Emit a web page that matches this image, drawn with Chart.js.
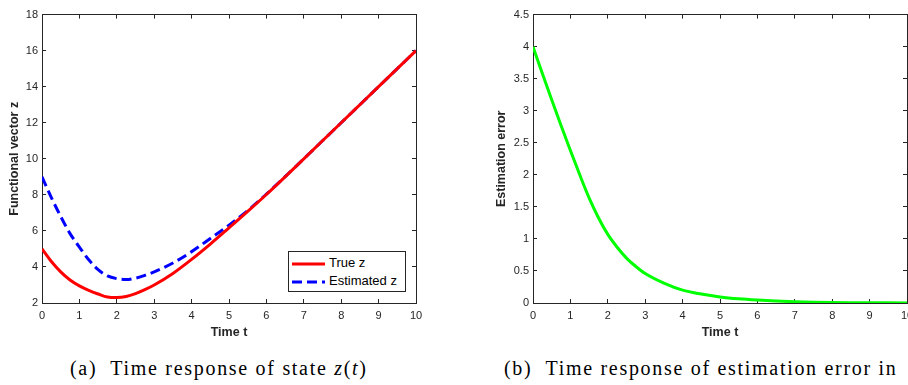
<!DOCTYPE html>
<html>
<head>
<meta charset="utf-8">
<script src="https://cdn.jsdelivr.net/npm/chart.js@4.4.0/dist/chart.umd.min.js"></script>
<style>
  html, body { margin: 0; padding: 0; background: #fff; }
  body { width: 908px; height: 385px; overflow: hidden; position: relative; }
  .wrap { position: absolute; top: 0; height: 345px; }
  #leftWrap { left: 0; width: 454px; }
  #rightWrap { left: 454px; width: 480px; }
  .caption { position: absolute; top: 357px; font-family: "Liberation Serif", serif; font-size: 20px; letter-spacing: 1.7px; word-spacing: 0; color: #000; white-space: nowrap; }
  #legendBox { position: absolute; left: 288px; top: 251px; width: 116px; height: 39px; border: 1px solid #262626; background: #fff;
               font-family: "Liberation Sans", Arial, sans-serif; font-size: 13px; color: #000; }
  #legendBox .row { position: absolute; left: 3px; height: 18px; line-height: 18px; white-space: nowrap; }
  #legendBox svg { vertical-align: middle; margin-right: 4px; }
</style>
</head>
<body>
<div class="wrap" id="leftWrap"><canvas id="stateChart"></canvas></div>
<div class="wrap" id="rightWrap"><canvas id="errChart"></canvas></div>
<div id="legendBox"></div>
<div class="caption" style="left:70px">(a)&nbsp; Time response of state <i>z</i>(<i>t</i>)</div>
<div class="caption" style="left:504px">(b)&nbsp; Time response of estimation error in</div>
<script>
const timeT = [0, 0.25, 0.5, 0.75, 1, 1.25, 1.5, 1.75, 2, 2.25, 2.5, 2.75, 3, 3.5, 4, 4.5, 5, 5.5, 6, 6.5, 7, 7.5, 8, 8.5, 9, 9.5, 10];
const trueZ = [5.0, 4.3, 3.73, 3.28, 2.95, 2.7, 2.5, 2.33, 2.3, 2.36, 2.52, 2.74, 3.0, 3.64, 4.42, 5.27, 6.17, 7.08, 8.02, 9.0, 10.0, 11.0, 12.0, 13.0, 14.0, 15.0, 16.0];
const estZ = [9.0, 7.85, 6.8, 5.85, 5.1, 4.4, 3.85, 3.5, 3.35, 3.3, 3.38, 3.53, 3.73, 4.22, 4.85, 5.58, 6.32, 7.12, 8.04, 9.01, 10.0, 11.0, 12.0, 13.0, 14.0, 15.0, 16.0];
const estErr = [4.0, 3.58, 3.17, 2.77, 2.38, 2.0, 1.64, 1.33, 1.07, 0.87, 0.7, 0.57, 0.46, 0.31, 0.2, 0.14, 0.095, 0.065, 0.045, 0.03, 0.02, 0.013, 0.008, 0.005, 0.003, 0.002, 0.001];
const seriesNames = ['True z', 'Estimated z'];
const axisTitles = { x: 'Time t', yState: 'Functional vector z', yErr: 'Estimation error' };

const pts = (ys) => timeT.map((t, i) => ({ x: t, y: ys[i] }));
const ink = '#262626';
const tickFont = { family: 'Liberation Sans, Arial, sans-serif', size: 11 };
const titleFont = { family: 'Liberation Sans, Arial, sans-serif', size: 12.5, weight: 'bold' };
const plainNum = (v) => String(Math.round(v * 10) / 10);

function boxAxes(xMin, xMax, yMin, yMax, yStep, yTitle, yWidth, yTitlePad) {
  const grid = { drawOnChartArea: false, drawTicks: true, tickLength: -4, color: ink };
  const border = { display: true, color: ink, width: 1 };
  return {
    x: {
      type: 'linear', min: xMin, max: xMax, position: 'bottom',
      ticks: { stepSize: 1, color: ink, font: tickFont, padding: 10, maxRotation: 0, callback: plainNum },
      grid, border,
      title: { display: true, text: axisTitles.x, color: ink, font: titleFont, padding: { top: 0, bottom: 5 } },
      afterFit: (s) => { s.height = 42; }
    },
    x2: {
      type: 'linear', min: xMin, max: xMax, position: 'top',
      ticks: { stepSize: 1, display: false },
      grid, border,
      afterFit: (s) => { s.height = 0; }
    },
    y: {
      type: 'linear', min: yMin, max: yMax, position: 'left',
      ticks: { stepSize: yStep, color: ink, font: tickFont, padding: 8, callback: plainNum },
      grid, border,
      title: { display: true, text: yTitle, color: ink, font: titleFont, padding: { top: yTitlePad, bottom: 0 } },
      afterFit: (s) => { s.width = yWidth; }
    },
    y2: {
      type: 'linear', min: yMin, max: yMax, position: 'right',
      ticks: { stepSize: yStep, display: false },
      grid, border,
      afterFit: (s) => { s.width = 0; }
    }
  };
}

const stateChart = new Chart(document.getElementById('stateChart'), {
  type: 'line',
  data: {
    datasets: [{
      label: seriesNames[0],
      data: pts(trueZ),
      borderColor: '#ff0000',
      borderWidth: 3,
      pointRadius: 0,
      cubicInterpolationMode: 'monotone'
    }, {
      label: seriesNames[1],
      data: pts(estZ),
      borderColor: '#0000ff',
      borderWidth: 3,
      borderDash: [10, 5],
      pointRadius: 0,
      cubicInterpolationMode: 'monotone'
    }]
  },
  options: {
    responsive: true,
    maintainAspectRatio: false,
    animation: false,
    layout: { padding: { left: 0, top: 9, right: 38, bottom: 0 } },
    plugins: { legend: { display: false }, tooltip: { enabled: false } },
    scales: boxAxes(0, 10, 2, 18, 2, axisTitles.yState, 42, 7)
  }
});

const errChart = new Chart(document.getElementById('errChart'), {
  type: 'line',
  data: {
    datasets: [{
      label: axisTitles.yErr,
      data: pts(estErr),
      borderColor: '#00ff00',
      borderWidth: 3,
      pointRadius: 0,
      cubicInterpolationMode: 'monotone'
    }]
  },
  options: {
    responsive: true,
    maintainAspectRatio: false,
    animation: false,
    layout: { padding: { left: 33, top: 9, right: 27, bottom: 0 } },
    plugins: { legend: { display: false }, tooltip: { enabled: false } },
    scales: boxAxes(0, 10, 0, 4.5, 0.5, axisTitles.yErr, 46, 7)
  }
});

// legend built from the chart's own datasets
const legendBox = document.getElementById('legendBox');
stateChart.data.datasets.forEach((ds, i) => {
  const row = document.createElement('div');
  row.className = 'row';
  row.style.top = (i === 0 ? 2 : 20) + 'px';
  const dash = ds.borderDash ? ds.borderDash.join(',') : 'none';
  row.innerHTML = '<svg width="33" height="6"><line x1="0" y1="3" x2="33" y2="3" stroke="' + ds.borderColor +
    '" stroke-width="3" stroke-dasharray="' + dash + '"/></svg>' + ds.label;
  legendBox.appendChild(row);
});
</script>
</body>
</html>
